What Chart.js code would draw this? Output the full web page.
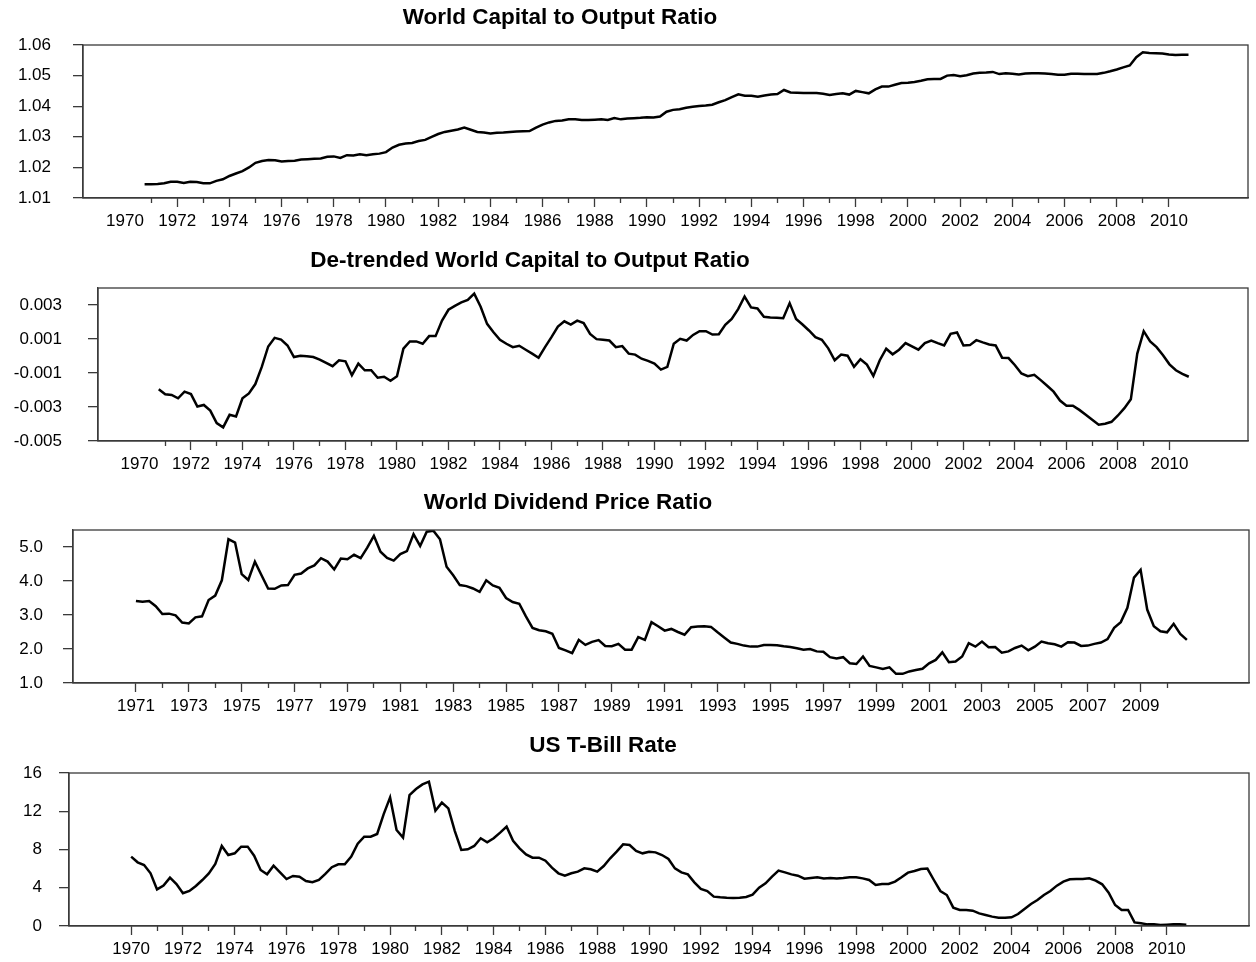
<!DOCTYPE html>
<html>
<head>
<meta charset="utf-8">
<script src="https://cdn.jsdelivr.net/npm/chart.js@4.4.0/dist/chart.umd.min.js"></script>
<style>
  body { margin: 0; background: #fff; }
  canvas { position: absolute; left: 0; }
</style>
</head>
<body>
<canvas id="capital" width="1256" height="240" style="top:0"></canvas>
<canvas id="detrended" width="1256" height="240" style="top:240px"></canvas>
<canvas id="dividend" width="1256" height="240" style="top:480px"></canvas>
<canvas id="tbill" width="1256" height="242" style="top:720px"></canvas>
<script>
// quarterly series, first value at the start year given
const capitalOutputStart = 1970.75;
const capitalOutput = [
  1.0145,
  1.0145, 1.0146, 1.0148, 1.0153, // 1971
  1.0153, 1.0149, 1.0153, 1.0152, // 1972
  1.0148, 1.0148, 1.0156, 1.0161, // 1973
  1.0172, 1.0180, 1.0188, 1.0200, // 1974
  1.0215, 1.0221, 1.0224, 1.0223, // 1975
  1.0219, 1.0221, 1.0222, 1.0226, // 1976
  1.0227, 1.0228, 1.0229, 1.0235, // 1977
  1.0236, 1.0231, 1.0240, 1.0239, // 1978
  1.0243, 1.0240, 1.0243, 1.0245, // 1979
  1.0250, 1.0265, 1.0274, 1.0278, // 1980
  1.0280, 1.0286, 1.0290, 1.0300, // 1981
  1.0309, 1.0316, 1.0320, 1.0324, // 1982
  1.0330, 1.0323, 1.0316, 1.0314, // 1983
  1.0311, 1.0313, 1.0314, 1.0316, // 1984
  1.0317, 1.0318, 1.0319, 1.0330, // 1985
  1.0340, 1.0347, 1.0352, 1.0353, // 1986
  1.0357, 1.0357, 1.0355, 1.0355, // 1987
  1.0356, 1.0357, 1.0355, 1.0361, // 1988
  1.0357, 1.0360, 1.0361, 1.0362, // 1989
  1.0364, 1.0363, 1.0366, 1.0382, // 1990
  1.0388, 1.0390, 1.0395, 1.0398, // 1991
  1.0401, 1.0402, 1.0405, 1.0413, // 1992
  1.0420, 1.0430, 1.0439, 1.0434, // 1993
  1.0434, 1.0431, 1.0435, 1.0438, // 1994
  1.0440, 1.0453, 1.0445, 1.0444, // 1995
  1.0443, 1.0443, 1.0443, 1.0441, // 1996
  1.0437, 1.0440, 1.0442, 1.0438, // 1997
  1.0450, 1.0446, 1.0442, 1.0455, // 1998
  1.0464, 1.0464, 1.0470, 1.0476, // 1999
  1.0477, 1.0479, 1.0483, 1.0488, // 2000
  1.0489, 1.0489, 1.0500, 1.0502, // 2001
  1.0498, 1.0501, 1.0507, 1.0509, // 2002
  1.0510, 1.0512, 1.0505, 1.0508, // 2003
  1.0506, 1.0504, 1.0507, 1.0508, // 2004
  1.0508, 1.0507, 1.0505, 1.0503, // 2005
  1.0503, 1.0506, 1.0506, 1.0505, // 2006
  1.0505, 1.0505, 1.0509, 1.0514, // 2007
  1.0520, 1.0527, 1.0533, 1.0560, // 2008
  1.0576, 1.0574, 1.0573, 1.0572, // 2009
  1.0569, 1.0567, 1.0568, 1.0568  // 2010
];

const detrendedStart = 1970.75;
const detrended = [
  -0.00196,
  -0.00225, -0.00229, -0.00249, -0.00210, // 1971
  -0.00224, -0.00297, -0.00288, -0.00321, // 1972
  -0.00395, -0.00420, -0.00346, -0.00356, // 1973
  -0.00249, -0.00220, -0.00165, -0.00064, // 1974
   0.00056,  0.00107,  0.00097,  0.00062, // 1975
  -0.00006,  0.00002, -0.00002, -0.00006, // 1976
  -0.00021, -0.00041, -0.00060, -0.00025, // 1977
  -0.00031, -0.00113, -0.00045, -0.00084, // 1978
  -0.00084, -0.00128, -0.00122, -0.00146, // 1979
  -0.00119,  0.00043,  0.00086,  0.00086, // 1980
   0.00072,  0.00117,  0.00117,  0.00208, // 1981
   0.00272,  0.00295,  0.00315,  0.00330, // 1982
   0.00367,  0.00290,  0.00189,  0.00140, // 1983
   0.00095,  0.00072,  0.00052,  0.00060, // 1984
   0.00037,  0.00014, -0.00010,  0.00052, // 1985
   0.00111,  0.00173,  0.00204,  0.00185, // 1986
   0.00208,  0.00194,  0.00130,  0.00099, // 1987
   0.00095,  0.00091,  0.00052,  0.00058, // 1988
   0.00014,  0.00008, -0.00016, -0.00029, // 1989
  -0.00045, -0.00080, -0.00064,  0.00072, // 1990
   0.00101,  0.00091,  0.00124,  0.00146, // 1991
   0.00146,  0.00126,  0.00128,  0.00183, // 1992
   0.00218,  0.00276,  0.00350,  0.00286, // 1993
   0.00280,  0.00231,  0.00227,  0.00225, // 1994
   0.00222,  0.00311,  0.00218,  0.00185, // 1995
   0.00150,  0.00111,  0.00095,  0.00045, // 1996
  -0.00025,  0.00008,  0.00002, -0.00064, // 1997
  -0.00019, -0.00051, -0.00117, -0.00025, // 1998
   0.00043,  0.00010,  0.00037,  0.00076, // 1999
   0.00056,  0.00037,  0.00076,  0.00091, // 2000
   0.00076,  0.00062,  0.00130,  0.00138, // 2001
   0.00062,  0.00064,  0.00093,  0.00080, // 2002
   0.00068,  0.00062, -0.00010, -0.00012, // 2003
  -0.00054, -0.00103, -0.00119, -0.00111, // 2004
  -0.00142, -0.00175, -0.00210, -0.00262, // 2005
  -0.00292, -0.00292, -0.00317, -0.00346, // 2006
  -0.00375, -0.00404, -0.00398, -0.00387, // 2007
  -0.00350, -0.00307, -0.00255,  0.00014, // 2008
   0.00146,  0.00086,  0.00052,  0.00004, // 2009
  -0.00049, -0.00084, -0.00105, -0.00122  // 2010
];

const dividendStart = 1971.0;
const dividendPrice = [
  3.41, 3.39, 3.41, 3.26, // 1971
  3.03, 3.04, 2.99, 2.78, // 1972
  2.75, 2.93, 2.96, 3.44, // 1973
  3.57, 4.02, 5.23, 5.13, // 1974
  4.20, 4.03, 4.57, 4.17, // 1975
  3.78, 3.77, 3.87, 3.88, // 1976
  4.18, 4.22, 4.37, 4.46, // 1977
  4.67, 4.57, 4.34, 4.66, // 1978
  4.64, 4.77, 4.67, 4.98, // 1979
  5.33, 4.86, 4.68, 4.60, // 1980
  4.79, 4.88, 5.38, 5.03, // 1981
  5.45, 5.48, 5.23, 4.42, // 1982
  4.17, 3.88, 3.85, 3.78, // 1983
  3.68, 4.02, 3.87, 3.80, // 1984
  3.50, 3.38, 3.33, 2.96, // 1985
  2.62, 2.55, 2.52, 2.45, // 1986
  2.03, 1.96, 1.88, 2.27, // 1987
  2.12, 2.21, 2.26, 2.09, // 1988
  2.08, 2.15, 1.98, 1.98, // 1989
  2.35, 2.27, 2.79, 2.67, // 1990
  2.54, 2.59, 2.50, 2.42, // 1991
  2.64, 2.66, 2.67, 2.65, // 1992
  2.49, 2.34, 2.19, 2.15, // 1993
  2.10, 2.07, 2.07, 2.12, // 1994
  2.12, 2.11, 2.08, 2.06, // 1995
  2.02, 1.98, 2.00, 1.93, // 1996
  1.92, 1.76, 1.72, 1.76, // 1997
  1.58, 1.56, 1.78, 1.50, // 1998
  1.46, 1.41, 1.46, 1.27, // 1999
  1.27, 1.34, 1.38, 1.42, // 2000
  1.58, 1.68, 1.90, 1.61, // 2001
  1.63, 1.78, 2.17, 2.07, // 2002
  2.22, 2.05, 2.06, 1.89, // 2003
  1.93, 2.03, 2.10, 1.96, // 2004
  2.07, 2.22, 2.17, 2.14, // 2005
  2.07, 2.20, 2.19, 2.09, // 2006
  2.10, 2.15, 2.19, 2.29, // 2007
  2.62, 2.79, 3.21, 4.10, // 2008
  4.33, 3.16, 2.67, 2.52, // 2009
  2.49, 2.74, 2.44, 2.27  // 2010
];

const tbillStart = 1970.0;
const tbillRate = [
  7.25, 6.66, 6.38, 5.51, // 1970
  3.83, 4.22, 5.05, 4.39, // 1971
  3.42, 3.66, 4.18, 4.81, // 1972
  5.50, 6.48, 8.37, 7.42, // 1973
  7.60, 8.30, 8.30, 7.35, // 1974
  5.86, 5.40, 6.31, 5.61, // 1975
  4.91, 5.23, 5.16, 4.71, // 1976
  4.57, 4.81, 5.45, 6.15, // 1977
  6.45, 6.45, 7.25, 8.60, // 1978
  9.34, 9.34, 9.62, 11.68, // 1979
  13.45, 10.04, 9.24, 13.70, // 1980
  14.33, 14.81, 15.09, 12.06, // 1981
  12.90, 12.30, 9.93, 7.95, // 1982
  8.02, 8.37, 9.17, 8.75, // 1983
  9.17, 9.76, 10.39, 8.92, // 1984
  8.12, 7.49, 7.15, 7.15, // 1985
  6.83, 6.10, 5.51, 5.26, // 1986
  5.51, 5.68, 6.03, 5.93, // 1987
  5.68, 6.27, 7.08, 7.77, // 1988
  8.54, 8.47, 7.84, 7.60, // 1989
  7.77, 7.70, 7.42, 7.01, // 1990
  6.03, 5.61, 5.40, 4.57, // 1991
  3.87, 3.66, 3.07, 3.00, // 1992
  2.95, 2.93, 2.96, 3.03, // 1993
  3.28, 4.01, 4.46, 5.16, // 1994
  5.79, 5.61, 5.40, 5.26, // 1995
  4.95, 5.02, 5.09, 4.98, // 1996
  5.02, 4.98, 5.02, 5.09, // 1997
  5.09, 4.98, 4.81, 4.29, // 1998
  4.39, 4.39, 4.64, 5.09, // 1999
  5.58, 5.75, 5.96, 6.00, // 2000
  4.81, 3.66, 3.24, 1.92, // 2001
  1.67, 1.67, 1.60, 1.32, // 2002
  1.15, 0.98, 0.87, 0.87, // 2003
  0.91, 1.25, 1.78, 2.30, // 2004
  2.72, 3.24, 3.66, 4.22, // 2005
  4.64, 4.88, 4.91, 4.91, // 2006
  4.98, 4.74, 4.36, 3.49, // 2007
  2.20, 1.67, 1.67, 0.38, // 2008
  0.28, 0.17, 0.17, 0.10, // 2009
  0.14, 0.17, 0.17, 0.14  // 2010
];

// tick years and labels
const evenYears = [1970, 1972, 1974, 1976, 1978, 1980, 1982, 1984, 1986, 1988, 1990,
  1992, 1994, 1996, 1998, 2000, 2002, 2004, 2006, 2008, 2010];
const oddYears = [1971, 1973, 1975, 1977, 1979, 1981, 1983, 1985, 1987, 1989, 1991,
  1993, 1995, 1997, 1999, 2001, 2003, 2005, 2007, 2009];
const oddYearsTo2009 = oddYears;
const evenYearsFrom1972 = evenYears.slice(1);

const capitalTicks = [1.01, 1.02, 1.03, 1.04, 1.05, 1.06];
const capitalLabels = ['1.01', '1.02', '1.03', '1.04', '1.05', '1.06'];
const detrendedTicks = [-0.005, -0.004, -0.003, -0.002, -0.001, 0, 0.001, 0.002, 0.003, 0.004];
const detrendedLabels = ['-0.005', '', '-0.003', '', '-0.001', '', '0.001', '', '0.003', ''];
const dividendTicks = [1.0, 1.5, 2.0, 2.5, 3.0, 3.5, 4.0, 4.5, 5.0, 5.5];
const dividendLabels = ['1.0', '', '2.0', '', '3.0', '', '4.0', '', '5.0', ''];
const tbillTicks = [0, 2, 4, 6, 8, 10, 12, 14, 16];
const tbillLabels = ['0', '', '4', '', '8', '', '12', '', '16'];

const axisColor = '#3a3a3a';
const FONT = '"Liberation Sans", Arial, Helvetica, sans-serif';
Chart.defaults.font.family = FONT;
Chart.defaults.font.size = 17;
Chart.defaults.color = '#000';

const panelTitle = {
  id: 'panelTitle',
  afterDraw(chart, args, opts) {
    const ctx = chart.ctx;
    ctx.save();
    ctx.font = 'bold 22.5px ' + FONT;
    ctx.fillStyle = '#000';
    ctx.textAlign = 'center';
    ctx.textBaseline = 'middle';
    ctx.fillText(opts.text, opts.x, opts.y);
    ctx.restore();
  }
};

// box round the plot area (top and right edges)
const plotFrame = {
  id: 'plotFrame',
  afterDraw(chart) {
    const a = chart.chartArea;
    const ctx = chart.ctx;
    ctx.save();
    ctx.strokeStyle = axisColor;
    ctx.lineWidth = 1.3;
    ctx.strokeRect(a.left, a.top, a.right - a.left, a.bottom - a.top);
    ctx.restore();
  }
};

function drawPanel(id, p) {
  new Chart(document.getElementById(id), {
    type: 'line',
    data: {
      datasets: [{
        data: p.values.map((v, i) => ({ x: p.start + i / 4, y: v })),
        borderColor: '#000',
        borderWidth: 2.5,
        pointRadius: 0,
        tension: 0
      }]
    },
    options: {
      responsive: false,
      animation: false,
      events: [],
      layout: { padding: { top: p.top, right: p.right, bottom: 0, left: 0 } },
      plugins: {
        legend: { display: false },
        tooltip: { enabled: false },
        panelTitle: { text: p.title, x: p.titleX, y: p.titleY }
      },
      scales: {
        x: {
          type: 'linear', position: 'bottom', min: p.xMin, max: p.xMax, weight: 1,
          afterBuildTicks: s => { s.ticks = p.majorYears.map(v => ({ value: v })); },
          afterFit: s => { s.height = p.axisHeight; },
          grid: {
            drawOnChartArea: false, tickLength: 9, tickWidth: 1.3,
            tickColor: c => (c.tick && p.hiddenTicks.includes(c.tick.value) ? 'rgba(0,0,0,0)' : axisColor)
          },
          border: { color: axisColor, width: 1.3 },
          ticks: { padding: 4, maxRotation: 0, autoSkip: false, callback: v => String(v) }
        },
        xMinor: {
          type: 'linear', position: 'bottom', min: p.xMin, max: p.xMax, weight: 0,
          afterBuildTicks: s => { s.ticks = p.minorYears.map(v => ({ value: v })); },
          afterFit: s => { s.height = 0; },
          grid: { drawOnChartArea: false, tickLength: 5, tickWidth: 1.3, tickColor: axisColor },
          border: { display: false },
          ticks: { display: false }
        },
        y: {
          min: p.yMin, max: p.yMax,
          afterBuildTicks: s => { s.ticks = p.yTicks.map(v => ({ value: v })); },
          afterFit: s => { s.width = p.left; },
          grid: {
            drawOnChartArea: p.zeroLine,
            color: c => (p.zeroLine && c.tick && c.tick.value === 0 ? '#555' : 'rgba(0,0,0,0)'),
            lineWidth: 1.3,
            tickLength: 10, tickWidth: 1.3, tickColor: axisColor
          },
          border: { color: axisColor, width: 1.3 },
          ticks: { padding: p.labelPad, callback: (v, i) => p.yLabels[i] }
        }
      }
    },
    plugins: [panelTitle, plotFrame]
  });
}

drawPanel('capital', {
  title: 'World Capital to Output Ratio', titleX: 560, titleY: 18,
  values: capitalOutput, start: capitalOutputStart,
  top: 45, right: 8, left: 83, axisHeight: 42, labelPad: 22,
  xMin: 1968.39, xMax: 2013.03,
  majorYears: evenYears, minorYears: oddYears, hiddenTicks: [1970],
  yMin: 1.01, yMax: 1.06, yTicks: capitalTicks, yLabels: capitalLabels, zeroLine: false
});

drawPanel('detrended', {
  title: 'De-trended World Capital to Output Ratio', titleX: 530, titleY: 21,
  values: detrended, start: detrendedStart,
  top: 48, right: 8, left: 98, axisHeight: 39, labelPad: 26,
  xMin: 1968.39, xMax: 2013.05,
  majorYears: evenYears, minorYears: oddYears, hiddenTicks: [1970],
  yMin: -0.005, yMax: 0.004, yTicks: detrendedTicks, yLabels: detrendedLabels, zeroLine: true
});

drawPanel('dividend', {
  title: 'World Dividend Price Ratio', titleX: 568, titleY: 23,
  values: dividendPrice, start: dividendStart,
  top: 50, right: 7, left: 73, axisHeight: 37, labelPad: 20,
  xMin: 1968.62, xMax: 2013.10,
  majorYears: oddYearsTo2009, minorYears: evenYearsFrom1972, hiddenTicks: [],
  yMin: 1.0, yMax: 5.5, yTicks: dividendTicks, yLabels: dividendLabels, zeroLine: false
});

drawPanel('tbill', {
  title: 'US T-Bill Rate', titleX: 603, titleY: 26,
  values: tbillRate, start: tbillStart,
  top: 53, right: 7, left: 69, axisHeight: 36, labelPad: 17,
  xMin: 1967.60, xMax: 2013.17,
  majorYears: evenYears, minorYears: oddYears, hiddenTicks: [],
  yMin: 0, yMax: 16, yTicks: tbillTicks, yLabels: tbillLabels, zeroLine: false
});
</script>
</body>
</html>
